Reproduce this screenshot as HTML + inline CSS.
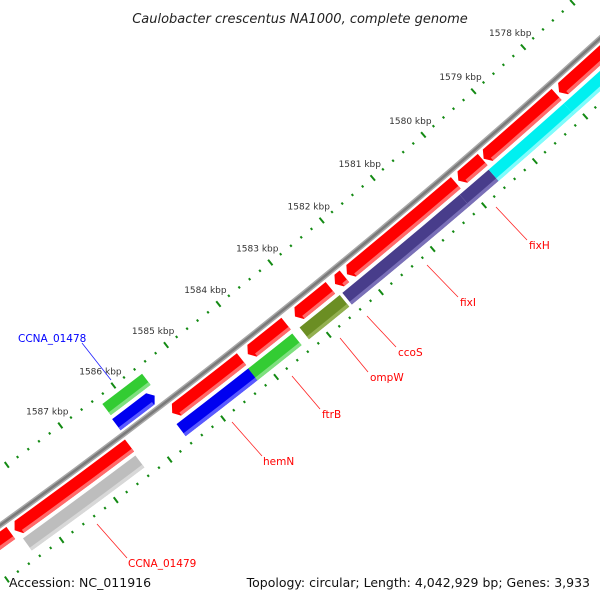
<!DOCTYPE html>
<html><head><meta charset="utf-8"><style>
html,body{margin:0;padding:0;background:#fff;}
svg{display:block;font-family:"DejaVu Sans","Liberation Sans",sans-serif;}
</style></head><body>
<svg id="map" width="600" height="600" viewBox="0 0 600 600">
<rect width="600" height="600" fill="#fff"/>
<g id="ticks"></g>
<g id="feats"></g>
<g id="labels">
<text x="300" y="23" text-anchor="middle" font-size="13" font-style="italic" fill="#222">Caulobacter crescentus NA1000, complete genome</text>
<text x="9" y="587" font-size="12.5" fill="#111">Accession: NC_011916</text>
<text x="590" y="587" text-anchor="end" font-size="12.5" fill="#111">Topology: circular; Length: 4,042,929 bp; Genes: 3,933</text>
<g stroke="#ff2020" stroke-width="0.8">
<line x1="496" y1="207" x2="527" y2="240"/>
<line x1="427" y1="265" x2="458" y2="297"/>
<line x1="367" y1="316" x2="396" y2="347"/>
<line x1="340" y1="338" x2="368" y2="372"/>
<line x1="292" y1="376" x2="320" y2="409"/>
<line x1="232" y1="422" x2="262" y2="456"/>
<line x1="97" y1="524" x2="127" y2="558"/>
<line x1="82" y1="343" x2="111" y2="380" stroke="#2020ff"/>
</g>
<g font-size="10.5" fill="#ff0000">
<text x="529" y="249">fixH</text>
<text x="460" y="306">fixI</text>
<text x="398" y="356">ccoS</text>
<text x="370" y="381">ompW</text>
<text x="322" y="418">ftrB</text>
<text x="263" y="465">hemN</text>
<text x="128" y="567">CCNA_01479</text>
<text x="18" y="342" fill="#0000ff">CCNA_01478</text>
</g>
</g>
</svg>
<script>
// ruler
const tickLabelsKbp = [1578,1579,1580,1581,1582,1583,1584,1585,1586,1587];
const tickRangeKbp = [1576.8, 1589.8];
// features (kbp)
const featStart = [1588.55,1586.35,1584.24,1583.39,1582.54,1582.27,1580.10,1579.57,1578.10,1576.5,
                   1586.37,1584.24,1583.41,1582.50,1580.17,1579.60,1578.11,1576.5,
                   1585.55,1585.60];
const featEnd   = [1589.8,1588.48,1585.55,1584.12,1583.22,1582.45,1582.22,1580.05,1579.55,1578.05,
                   1588.45,1585.60,1584.25,1583.27,1582.45,1580.17,1579.60,1578.11,
                   1586.30,1586.32];
const featTrack = [1,1,1,1,1,1,1,1,1,1, 2,2,2,2,2,2,2,2, -2,-1];
const featArrow = [1,1,1,1,1,1,1,1,1,1, 0,0,0,0,0,0,0,0, 0,-1];
const featColor = ['#f00','#f00','#f00','#f00','#f00','#f00','#f00','#f00','#f00','#f00',
                   '#bdbdbd','#0000f0','#33cc33','#6b8e23','#483d8b','#483d8b','#00f0f0','#00f0f0',
                   '#33cc33','#0000f0'];
const featLight = ['#ff6a6a','#ff6a6a','#ff6a6a','#ff6a6a','#ff6a6a','#ff6a6a','#ff6a6a','#ff6a6a','#ff6a6a','#ff6a6a',
                   '#d8d8d8','#5a5aff','#7fe07f','#93b050','#7a70b8','#7a70b8','#7ffcfc','#7ffcfc',
                   '#7fe07f','#5a5aff'];
const featName = ['cds-a','cds-b','cds-hemn','cds-ftrb','cds-ompw','cds-ccos','cds-fixi','cds-c','cds-fixh','cds-d',
                  'cog-ccna01479','cog-hemn','cog-ftrb','cog-ompw','cog-fixi-a','cog-fixi-b','cog-fixh-a','cog-fixh-b',
                  'cog-ccna01478','cds-ccna01478'];

const CX=-3872, CY=-4859, A0=49.30, DEG_PER_KBP=0.578;
const trackR = {'1':[6637,6652],'2':[6656,6671],'-1':[6613,6627],'-2':[6595,6609]};
const NS='http://www.w3.org/2000/svg';
function ang(k){return (A0+(k-1580)*DEG_PER_KBP)*Math.PI/180;}
function pt(r,k){const a=ang(k);return [CX+r*Math.cos(a),CY+r*Math.sin(a)];}
function f(p){return p[0].toFixed(2)+' '+p[1].toFixed(2);}

const svg=document.getElementById('map');
// backbone
const tg=document.getElementById('ticks');
function arcPath(r,k1,k2){return 'M'+f(pt(r,k1))+' A'+r+' '+r+' 0 0 1 '+f(pt(r,k2));}
[['#a8a8a8',5.5],['#7a7a7a',2.5]].forEach(function(s,i){
  const p=document.createElementNS(NS,'path');
  p.setAttribute('d',arcPath(6632,tickRangeKbp[0],tickRangeKbp[1]));
  p.setAttribute('stroke',s[0]);p.setAttribute('stroke-width',s[1]);p.setAttribute('fill','none');
  
  
  svg.insertBefore(p,tg);
});
// ticks
[6587,6680].forEach(function(R,ri){
  for(let i=0;;i++){
    const k=Math.round((tickRangeKbp[0]+i*0.2)*10)/10;
    if(k>tickRangeKbp[1])break;
    const major=Math.abs(k-Math.round(k))<0.01;
    const h=major?3.5:1.2;
    const a=pt(R-h,k),b=pt(R+h,k);
    const l=document.createElementNS(NS,'line');
    l.setAttribute('x1',a[0]);l.setAttribute('y1',a[1]);l.setAttribute('x2',b[0]);l.setAttribute('y2',b[1]);
    l.setAttribute('stroke','#138a13');l.setAttribute('stroke-width','2');
    
    
    tg.appendChild(l);
  }
});
tickLabelsKbp.forEach(function(k){
  const p=pt(6587,k);
  const t=document.createElementNS(NS,'text');
  t.setAttribute('x',p[0]-13);t.setAttribute('y',p[1]-11);
  t.setAttribute('text-anchor','middle');t.setAttribute('font-size','9');t.setAttribute('fill','#333');
  t.textContent=k+' kbp';
  
  
  tg.appendChild(t);
});
// features
const fg=document.getElementById('feats');
function featPath(r1,r2,k1,k2,arrow){
  const AL=0.08, rm=(r1+r2)/2;
  let d;
  if(arrow===1){
    const e=k2-AL;
    d='M'+f(pt(r1,k1))+' A'+r1+' '+r1+' 0 0 1 '+f(pt(r1,e))+' L'+f(pt(rm,k2))+' L'+f(pt(r2,e))+' A'+r2+' '+r2+' 0 0 0 '+f(pt(r2,k1))+' Z';
  }else if(arrow===-1){
    const s=k1+AL;
    d='M'+f(pt(rm,k1))+' L'+f(pt(r1,s))+' A'+r1+' '+r1+' 0 0 1 '+f(pt(r1,k2))+' L'+f(pt(r2,k2))+' A'+r2+' '+r2+' 0 0 0 '+f(pt(r2,s))+' Z';
  }else{
    d='M'+f(pt(r1,k1))+' A'+r1+' '+r1+' 0 0 1 '+f(pt(r1,k2))+' L'+f(pt(r2,k2))+' A'+r2+' '+r2+' 0 0 0 '+f(pt(r2,k1))+' Z';
  }
  return d;
}
for(let i=0;i<featStart.length;i++){
  const r=trackR[String(featTrack[i])];
  const g=document.createElementNS(NS,'g');
  
  
  const p=document.createElementNS(NS,'path');
  p.setAttribute('d',featPath(r[0],r[1],featStart[i],featEnd[i],featArrow[i]));
  p.setAttribute('fill',featColor[i]);
  
  
  g.appendChild(p);
  const q=document.createElementNS(NS,'path');
  const inset=featArrow[i]===0?0:0.09;
  const ks=featStart[i]+(featArrow[i]===-1?inset:0), ke=featEnd[i]-(featArrow[i]===1?inset:0);
  q.setAttribute('d',featPath(r[1]-3.5,r[1],ks,ke,0));
  q.setAttribute('fill',featLight[i]);
  
  
  g.appendChild(q);
  fg.appendChild(g);
}
</script>
</body></html>
